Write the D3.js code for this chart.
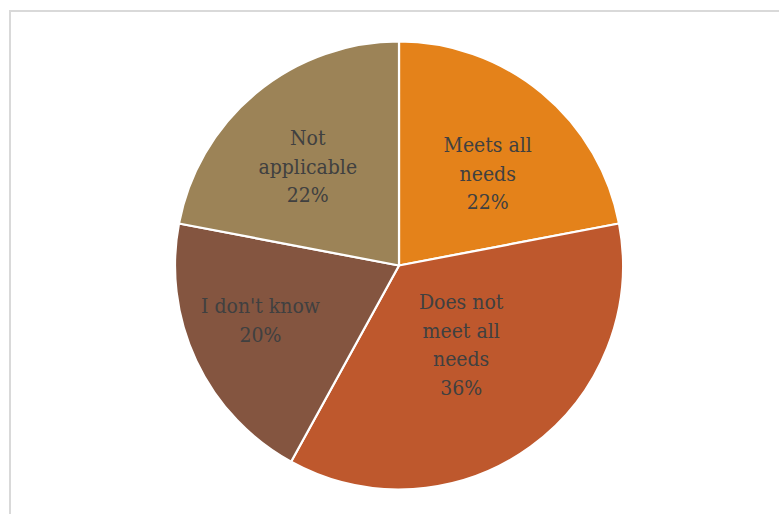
<!DOCTYPE html>
<html>
<head>
<meta charset="utf-8">
<script src="https://cdn.jsdelivr.net/npm/d3@7"></script>
<style>
  html, body { margin: 0; padding: 0; background: #fff; }
  svg { display: block; }
</style>
</head>
<body>
<svg id="chart" width="779" height="514"></svg>
<script>
// Survey responses
const categories = ["Meets all needs", "Does not meet all needs", "I don't know", "Not applicable"];
const values = [22, 36, 20, 22];
// Label lines shown inside each slice
const labelLines = [
  ["Meets all", "needs"],
  ["Does not", "meet all", "needs"],
  ["I don't know"],
  ["Not", "applicable"]
];
const colors = ["#E4821A", "#BE582D", "#845540", "#9C8357"];

// label placement inside each slice: distance out (fraction of radius)
// and position across the slice's sweep (0 = start edge, 1 = end edge)
const labelRadius = [0.57, 0.45, 0.665, 0.60];
const labelSweep = [0.556, 0.484, 0.55, 0.46];

const svg = d3.select("#chart");
const W = 779, H = 514;

// chart area frame (runs off the right and bottom edges)
svg.append("rect")
  .attr("x", 10).attr("y", 11)
  .attr("width", W + 20).attr("height", H + 20)
  .attr("fill", "#fff")
  .attr("stroke", "#d9d9d9")
  .attr("stroke-width", 2);

const cx = 399, cy = 265.5, R = 224;

const data = categories.map((c, i) => ({
  name: c, value: values[i], lines: labelLines[i], color: colors[i],
  lr: labelRadius[i], ls: labelSweep[i]
}));

const pie = d3.pie().value(d => d.value).sort(null);
const arcs = pie(data);
const arc = d3.arc().innerRadius(0).outerRadius(R);

const g = svg.append("g").attr("transform", `translate(${cx},${cy})`);

g.selectAll("path.slice")
  .data(arcs)
  .join("path")
  .attr("class", "slice")
  .attr("d", arc)
  .attr("fill", d => d.data.color)
  .attr("stroke", "#fff")
  .attr("stroke-width", 2.2)
  .attr("stroke-linejoin", "round");

const lineH = 28.5;
const fmt = d3.format(".0%");
const total = d3.sum(values);

arcs.forEach(a => {
  const ang = a.startAngle + (a.endAngle - a.startAngle) * a.data.ls;
  const r = R * a.data.lr;
  const x = r * Math.sin(ang);
  const y = -r * Math.cos(ang);
  const lines = a.data.lines.concat([fmt(a.data.value / total)]);
  const t = g.append("text")
    .attr("x", x)
    .attr("y", y)
    .attr("text-anchor", "middle")
    .attr("fill", "#404040")
    .style("font-family", "'DejaVu Serif Condensed', 'DejaVu Serif', serif")
    .style("font-stretch", "condensed")
    .style("font-size", "21px");
  lines.forEach((ln, i) => {
    t.append("tspan")
      .attr("x", x)
      .attr("y", y + (i - (lines.length - 1) / 2) * lineH)
      .attr("dominant-baseline", "central")
      .text(ln);
  });
});
</script>
</body>
</html>
